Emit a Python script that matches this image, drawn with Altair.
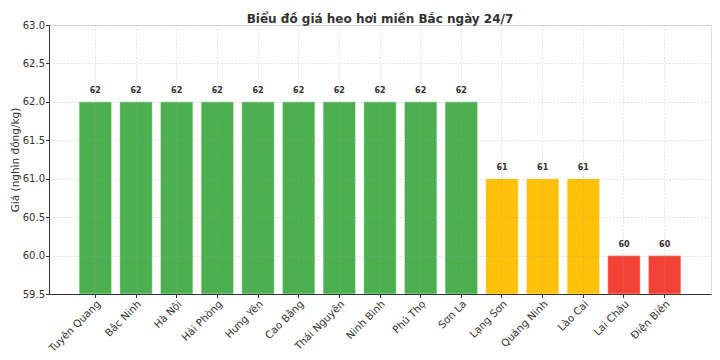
import altair as alt
import pandas as pd

provinces = ["Tuyên Quang", "Bắc Ninh", "Hà Nội", "Hải Phòng", "Hưng Yên", "Cao Bằng",
             "Thái Nguyên", "Ninh Bình", "Phú Thọ", "Sơn La", "Lạng Sơn", "Quảng Ninh",
             "Lào Cai", "Lai Châu", "Điện Biên"]
prices = [62, 62, 62, 62, 62, 62, 62, 62, 62, 62, 61, 61, 61, 60, 60]
colors = ["#4CAF50"] * 10 + ["#FFC107"] * 3 + ["#F44336"] * 2
y_ticks = [59.5, 60.0, 60.5, 61.0, 61.5, 62.0, 62.5, 63.0]

df = pd.DataFrame({"province": provinces, "price": prices, "color": colors})

FONT = "DejaVu Sans"
GRID = dict(grid=True, gridDash=[2, 1.5], gridColor="#a0a0a0", gridOpacity=0.35, gridWidth=0.8)

x_scale = alt.Scale(paddingInner=0.2, paddingOuter=0.74)
x_axis = alt.Axis(title=None, labelAngle=-45, labelAlign="right", labelBaseline="top",
                  labelFontSize=10.3, labelColor="#333333", labelFont=FONT,
                  bandPosition=0.5, domainColor="#333333", tickColor="#333333",
                  tickSize=3.5, labelPadding=1, zindex=1, labelOverlap=False, **GRID)

y_scale = alt.Scale(domain=[59.5, 63.0], zero=False, nice=False)
y_axis = alt.Axis(title="Giá (nghìn đồng/kg)", values=y_ticks,
                  labelExpr="format(datum.value, '.1f')", labelFontSize=10, labelColor="#333333",
                  labelFont=FONT, titleFont=FONT, titleFontSize=10.5, titleFontWeight="normal",
                  titleColor="#333333", domainColor="#333333", tickColor="#333333",
                  tickSize=3.5, labelPadding=1, titlePadding=2, labelOverlap=False, zindex=1, **GRID)

x = alt.X("province:N", sort=provinces, scale=x_scale, axis=x_axis)
y = alt.Y("price:Q", scale=y_scale, axis=y_axis)

base = alt.Chart(df)

bars = base.mark_bar(stroke="white", strokeWidth=0.5, clip=True).encode(
    x=x,
    y=y,
    y2=alt.datum(59.5),
    color=alt.Color("color:N", scale=None),
)

labels = base.mark_text(font=FONT, fontSize=8, fontWeight="bold", color="#333333",
                        dy=-11, baseline="middle").encode(
    x=x,
    y=y,
    text=alt.Text("price:Q", format="d"),
)

chart = alt.layer(bars, labels).properties(
    width=662, height=269,
    title=alt.TitleParams("Biểu đồ giá heo hơi miền Bắc ngày 24/7", font=FONT, fontSize=12,
                          fontWeight="bold", color="#333333", anchor="middle", offset=0, dy=6),
    autosize=alt.AutoSizeParams(type="none"),
    padding={"left": 41, "top": 17, "right": 1, "bottom": 60},
).configure_view(stroke=None).configure(background="white")

chart.save("out.html", embed_options={"renderer": "svg", "actions": False})
